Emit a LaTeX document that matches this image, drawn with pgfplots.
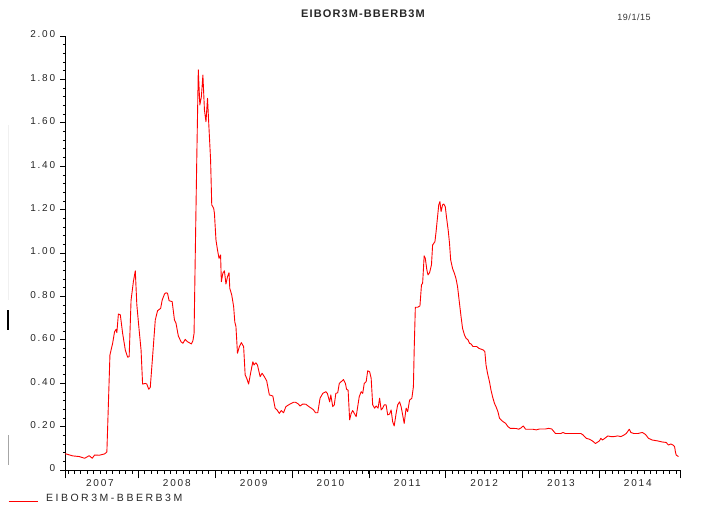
\documentclass[border=0pt]{standalone}
\usepackage{fontspec}
\setmainfont{Liberation Sans}
\newfontfamily\spaced{Liberation Sans}[LetterSpace=18]
\newfontfamily\spacedl{Liberation Sans}[LetterSpace=24]
\usepackage{pgfplots}
\pgfplotsset{compat=1.18}
\pgfplotstableread{
t v
2007.045 0.074
2007.06 0.074
2007.145 0.065
2007.23 0.062
2007.30 0.054
2007.36 0.066
2007.40 0.054
2007.43 0.069
2007.49 0.068
2007.56 0.074
2007.59 0.083
2007.63 0.530
2007.665 0.584
2007.69 0.637
2007.71 0.648
2007.72 0.633
2007.74 0.719
2007.765 0.715
2007.795 0.630
2007.83 0.553
2007.86 0.520
2007.88 0.522
2007.905 0.783
2007.935 0.868
2007.96 0.918
2007.98 0.761
2008.01 0.645
2008.035 0.553
2008.055 0.396
2008.09 0.399
2008.11 0.396
2008.135 0.372
2008.155 0.381
2008.185 0.522
2008.22 0.691
2008.25 0.734
2008.29 0.745
2008.31 0.783
2008.34 0.811
2008.36 0.817
2008.38 0.814
2008.40 0.780
2008.44 0.776
2008.47 0.691
2008.49 0.676
2008.52 0.618
2008.555 0.591
2008.58 0.584
2008.61 0.602
2008.64 0.591
2008.69 0.581
2008.71 0.596
2008.725 0.630
2008.74 0.978
2008.76 1.429
2008.78 1.844
2008.80 1.682
2008.82 1.720
2008.84 1.820
2008.86 1.659
2008.88 1.605
2008.90 1.713
2008.915 1.605
2008.94 1.429
2008.955 1.222
2008.98 1.206
2008.99 1.183
2009.01 1.060
2009.03 1.014
2009.05 0.975
2009.07 0.991
2009.08 0.868
2009.10 0.907
2009.12 0.918
2009.14 0.857
2009.16 0.891
2009.18 0.909
2009.19 0.837
2009.215 0.807
2009.24 0.753
2009.255 0.683
2009.27 0.661
2009.29 0.538
2009.315 0.569
2009.34 0.587
2009.37 0.569
2009.39 0.438
2009.41 0.423
2009.435 0.396
2009.46 0.445
2009.49 0.499
2009.505 0.484
2009.53 0.494
2009.55 0.484
2009.585 0.430
2009.61 0.446
2009.64 0.430
2009.67 0.411
2009.705 0.346
2009.75 0.341
2009.78 0.285
2009.805 0.277
2009.835 0.261
2009.86 0.274
2009.89 0.264
2009.92 0.292
2009.955 0.300
2009.99 0.307
2010.02 0.312
2010.045 0.312
2010.075 0.306
2010.105 0.295
2010.14 0.304
2010.18 0.303
2010.22 0.292
2010.25 0.285
2010.28 0.277
2010.305 0.264
2010.335 0.264
2010.365 0.331
2010.40 0.353
2010.44 0.361
2010.46 0.353
2010.49 0.314
2010.505 0.346
2010.53 0.292
2010.55 0.300
2010.57 0.353
2010.595 0.356
2010.615 0.399
2010.64 0.407
2010.67 0.417
2010.695 0.399
2010.71 0.372
2010.73 0.368
2010.75 0.231
2010.77 0.261
2010.79 0.274
2010.81 0.261
2010.835 0.246
2010.855 0.292
2010.875 0.338
2010.90 0.361
2010.92 0.353
2010.94 0.399
2010.965 0.407
2010.985 0.457
2011.01 0.453
2011.03 0.423
2011.05 0.300
2011.075 0.285
2011.095 0.295
2011.12 0.285
2011.14 0.331
2011.16 0.277
2011.18 0.285
2011.20 0.300
2011.225 0.300
2011.245 0.254
2011.27 0.258
2011.29 0.277
2011.31 0.222
2011.33 0.203
2011.355 0.261
2011.375 0.300
2011.40 0.314
2011.42 0.292
2011.44 0.254
2011.46 0.215
2011.485 0.285
2011.505 0.269
2011.53 0.322
2011.56 0.331
2011.58 0.384
2011.59 0.553
2011.605 0.750
2011.635 0.750
2011.665 0.756
2011.685 0.853
2011.70 0.861
2011.72 0.987
2011.735 0.975
2011.755 0.922
2011.77 0.899
2011.79 0.909
2011.815 0.945
2011.83 1.037
2011.86 1.052
2011.875 1.098
2011.89 1.152
2011.91 1.222
2011.925 1.237
2011.94 1.191
2011.96 1.222
2011.975 1.226
2011.995 1.213
2012.01 1.167
2012.035 1.098
2012.05 1.044
2012.065 0.968
2012.09 0.928
2012.115 0.905
2012.135 0.881
2012.155 0.844
2012.18 0.767
2012.20 0.707
2012.22 0.652
2012.245 0.622
2012.265 0.607
2012.29 0.600
2012.31 0.584
2012.33 0.581
2012.355 0.569
2012.38 0.569
2012.405 0.569
2012.43 0.561
2012.46 0.557
2012.49 0.553
2012.51 0.545
2012.525 0.484
2012.545 0.445
2012.57 0.407
2012.59 0.368
2012.61 0.338
2012.635 0.307
2012.655 0.292
2012.68 0.269
2012.70 0.239
2012.72 0.231
2012.75 0.222
2012.78 0.215
2012.81 0.200
2012.84 0.192
2012.87 0.192
2012.92 0.191
2012.95 0.188
2012.98 0.194
2013.01 0.203
2013.04 0.188
2013.09 0.188
2013.13 0.188
2013.18 0.185
2013.22 0.189
2013.30 0.189
2013.34 0.192
2013.38 0.189
2013.43 0.168
2013.48 0.168
2013.50 0.168
2013.525 0.173
2013.56 0.168
2013.70 0.168
2013.76 0.168
2013.79 0.161
2013.83 0.146
2013.87 0.142
2013.91 0.134
2013.95 0.122
2013.975 0.128
2014.00 0.134
2014.02 0.146
2014.04 0.138
2014.09 0.151
2014.11 0.157
2014.15 0.154
2014.19 0.154
2014.24 0.157
2014.28 0.154
2014.32 0.161
2014.35 0.168
2014.39 0.188
2014.41 0.173
2014.45 0.168
2014.50 0.168
2014.56 0.173
2014.60 0.164
2014.64 0.146
2014.69 0.138
2014.76 0.134
2014.82 0.129
2014.87 0.127
2014.90 0.115
2014.93 0.120
2014.96 0.115
2014.98 0.107
2014.99 0.084
2015.00 0.069
2015.03 0.062
}\spread
\begin{document}
\begin{tikzpicture}
\path[use as bounding box] (0,0) rectangle (703bp,506bp);
% y axis only
\begin{axis}[
  at={(65bp,36bp)}, anchor=south west,
  scale only axis, width=615bp, height=434bp,
  xmin=2007.045, xmax=2015.05, ymin=0, ymax=2.0,
  hide x axis,
  axis y line*=left, axis line style={-, black, line width=0.8bp},
  tick align=outside,
  major tick length=4.7bp, minor tick length=2.2bp,
  tick style={black, line width=0.7bp},
  ytick={0,0.2,0.4,0.6,0.8,1.0,1.2,1.4,1.6,1.8,2.0},
  yticklabels={0,0.20,0.40,0.60,0.80,1.00,1.20,1.40,1.60,1.80,2.00},
  minor ytick={0.04,0.08,...,2.01},
  yticklabel style={font=\spaced\fontsize{10bp}{12bp}\selectfont, text=black!85, inner sep=0pt, xshift=-5bp, yshift=1.5bp},
]
\end{axis}
% x axis and data
\begin{axis}[
  at={(65bp,36bp)}, anchor=south west,
  scale only axis, width=615bp, height=434bp,
  xmin=2007.045, xmax=2015.05, ymin=0, ymax=2.0,
  hide y axis,
  axis x line*=bottom, axis line style={-, black, line width=0.8bp},
  tick align=outside,
  major tick length=8.3bp, minor tick length=3.7bp,
  tick style={black, line width=0.7bp},
  xtick={2007.045,2008,2009,2010,2011,2012,2013,2014,2015.05},
  xticklabels={},
  minor xtick={2007.08333,2007.16667,...,2015.0},
  extra x ticks={2007.5,2008.5,2009.5,2010.5,2011.5,2012.5,2013.5,2014.5},
  extra x tick labels={2007,2008,2009,2010,2011,2012,2013,2014},
  extra x tick style={major tick length=0pt, tick style={draw=none}},
  xticklabel style={font=\spaced\fontsize{10bp}{12bp}\selectfont, text=black!85, inner sep=0pt, yshift=-9bp},
  legend style={at={(-0.0927,-0.0668)}, anchor=west, draw=none, fill=none, inner sep=0pt,
     font=\spacedl\fontsize{10.5bp}{12bp}\selectfont, text=black!85,
     /tikz/every odd column/.style={column sep=6bp}},
  legend image code/.code={\draw[red, line width=0.9bp] (0bp,-2.5bp) -- (29bp,-2.5bp);},
  clip=false,
]
\addplot[red, line width=0.9bp, line join=round] table[x=t, y=v] {\spread};
\addlegendentry{EIBOR3M-BBERB3M}
\end{axis}
\node[font=\bfseries\fontsize{11bp}{13bp}\selectfont, text=black!85] at (363bp,492bp) {\addfontfeature{LetterSpace=10}EIBOR3M-BBERB3M};
\node[font=\fontsize{9bp}{11bp}\selectfont, text=black!80] at (634bp,489bp) {\addfontfeature{LetterSpace=6}19/1/15};
% stray marks at the left edge of the reference
\draw[gray!12, line width=0.8bp] (8bp,206bp) -- (8bp,381bp);
\draw[black, line width=1.2bp] (8bp,176bp) -- (8bp,196bp);
\draw[gray!70, line width=0.8bp] (8bp,41bp) -- (8bp,71bp);
\end{tikzpicture}
\end{document}
